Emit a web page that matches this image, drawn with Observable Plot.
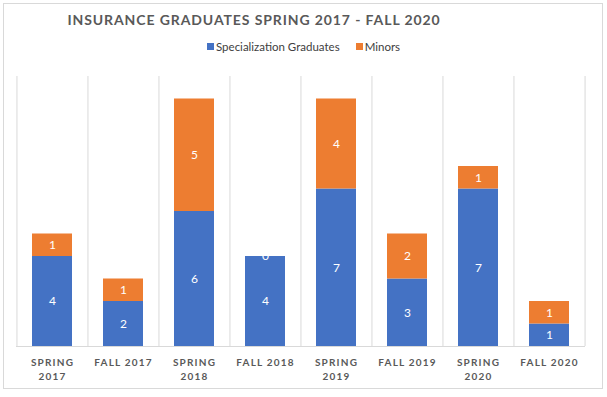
<!DOCTYPE html>
<html>
<head>
<meta charset="utf-8">
<script src="https://cdn.jsdelivr.net/npm/d3@7"></script>
<script src="https://cdn.jsdelivr.net/npm/@observablehq/plot@0.6"></script>
<style>
  html, body { margin: 0; padding: 0; background: #fff; }
  #wrap { position: relative; width: 607px; height: 397px; font-family: Lato, "Open Sans", sans-serif; }
  #border { position: absolute; left: 3px; top: 3px; width: 598px; height: 384px; border: 1px solid #d9d9d9; }
  #title { position: absolute; left: 0; top: 11px; width: 508px; text-align: center; font-size: 14px; font-weight: bold; letter-spacing: 0.9px; color: #595959; }
  #legend { position: absolute; left: 207px; top: 40px; font-size: 11.5px; color: #404040; display: flex; align-items: center; }
  .sw { display: inline-block; width: 7px; height: 7px; margin-right: 2px; }
  #chart { position: absolute; left: 0; top: 60px; }
</style>
</head>
<body>
<div id="wrap">
  <div id="border"></div>
  <div id="title">INSURANCE GRADUATES SPRING 2017 - FALL 2020</div>
  <div id="legend"><span class="sw" style="background:#4472C4"></span>Specialization Graduates<span class="sw" style="background:#ED7D31;margin-left:16px"></span>Minors</div>
  <div id="chart"></div>
</div>
<script>
const categories = ["SPRING 2017", "FALL 2017", "SPRING 2018", "FALL 2018", "SPRING 2019", "FALL 2019", "SPRING 2020", "FALL 2020"];
const tickLabels = ["SPRING\n2017", "FALL 2017", "SPRING\n2018", "FALL 2018", "SPRING\n2019", "FALL 2019", "SPRING\n2020", "FALL 2020"];
const seriesNames = ["Specialization Graduates", "Minors"];
const specialization = [4, 2, 6, 4, 7, 3, 7, 1];
const minors = [1, 1, 5, 0, 4, 2, 1, 1];
const colors = ["#4472C4", "#ED7D31"];

const data = [];
categories.forEach((c, i) => data.push({cat: c, series: seriesNames[0], value: specialization[i]}));
categories.forEach((c, i) => data.push({cat: c, series: seriesNames[1], value: minors[i]}));

const W = 607, H = 330, ML = 16, MR = 22;
const step = (W - ML - MR) / categories.length;
const labelMap = new Map(categories.map((c, i) => [c, tickLabels[i]]));

const chart = Plot.plot({
  width: W,
  height: H,
  marginLeft: ML,
  marginRight: MR,
  marginTop: 16,
  marginBottom: 44,
  style: {fontFamily: "Lato, 'Open Sans', sans-serif", background: "transparent"},
  x: {domain: categories, paddingInner: 0.44, paddingOuter: 0.22, label: null},
  y: {domain: [0, 12], axis: null},
  color: {domain: seriesNames, range: colors},
  marks: [
    Plot.ruleX(categories, {x: d => d, dx: -step / 2, stroke: "#d9d9d9", strokeOpacity: 1}),
    Plot.ruleX([categories[categories.length - 1]], {x: d => d, dx: step / 2, stroke: "#d9d9d9", strokeOpacity: 1}),
    Plot.barY(data, Plot.stackY({x: "cat", y: "value", z: "series", fill: "series", order: null})),
    Plot.text(data, Plot.stackY({x: "cat", y: "value", z: "series", text: d => String(d.value), order: null, fill: "white", fontSize: 12})),
    Plot.ruleY([0], {stroke: "#d9d9d9", strokeOpacity: 1}),
    Plot.axisX({tickSize: 0, tickPadding: 9, label: null, tickFormat: d => labelMap.get(d), lineHeight: 1.45, fontSize: 10, fontWeight: "bold", fill: "#595959", letterSpacing: 1.2})
  ]
});
chart.querySelectorAll("g[aria-label='x-axis tick label']").forEach(el => {
  el.setAttribute("letter-spacing", "1.2");
  el.setAttribute("font-weight", "bold");
});
document.getElementById("chart").appendChild(chart);
</script>
</body>
</html>
